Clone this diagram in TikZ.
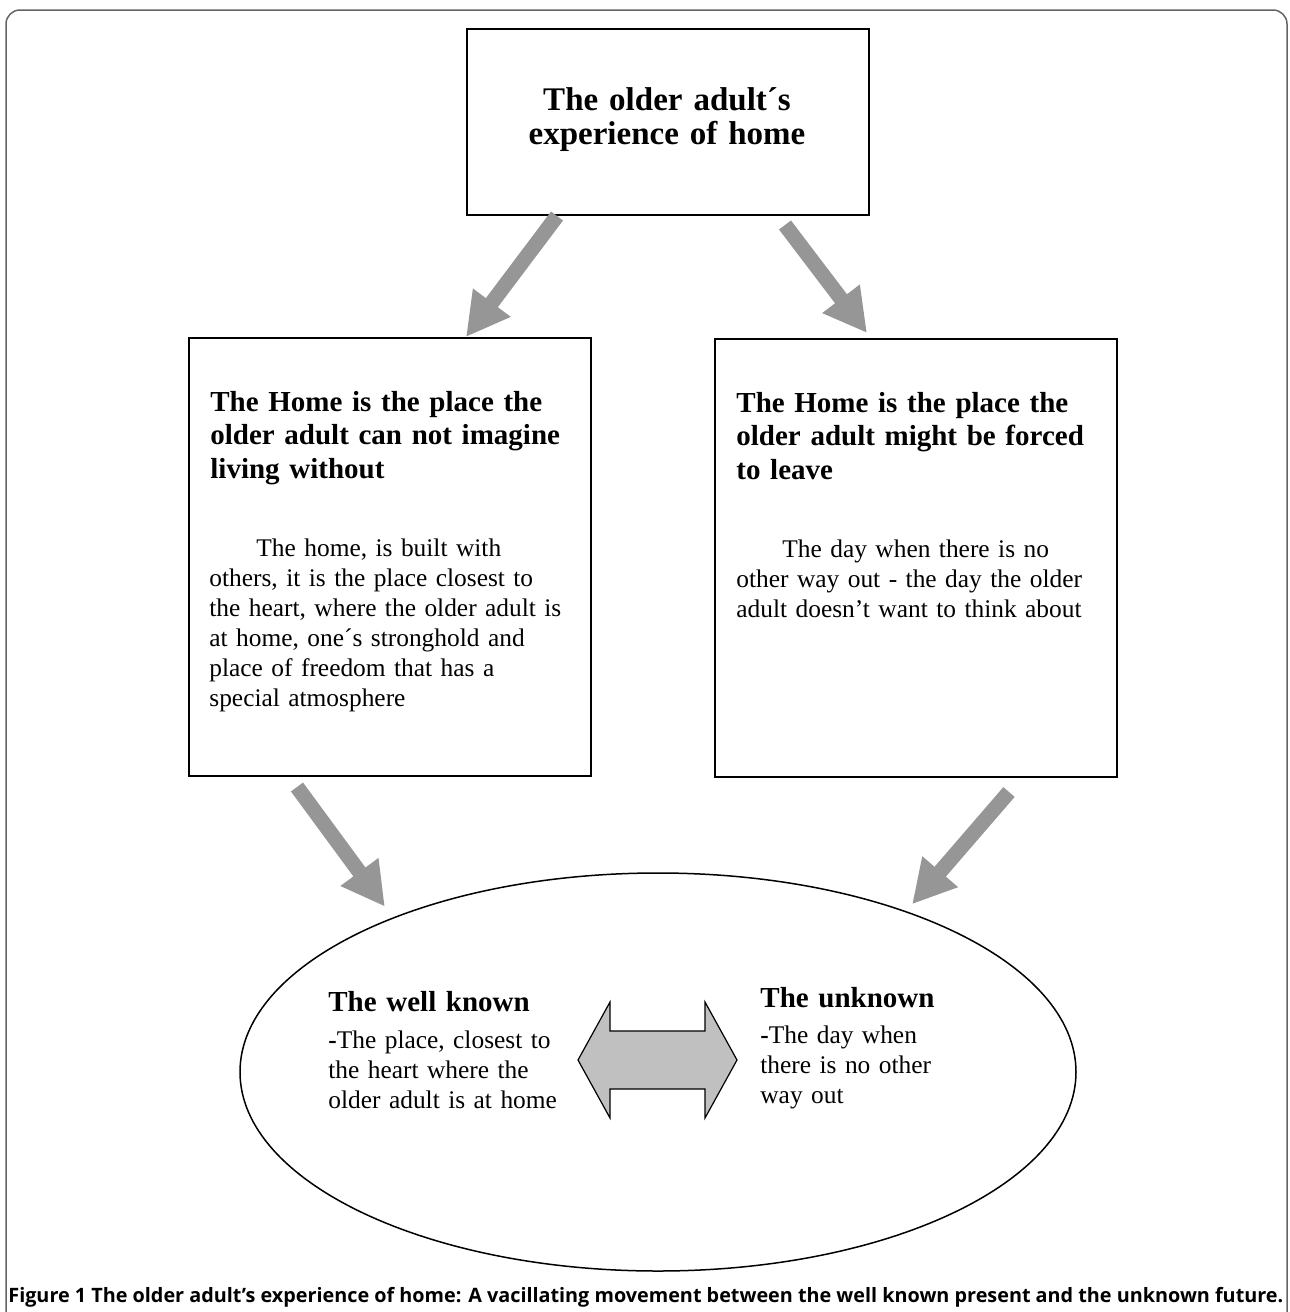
\documentclass[tikz,border=0pt]{standalone}
\usepackage{fontspec}
\setmainfont{Liberation Serif}
\newfontfamily\captionfont{Open Sans}
\usetikzlibrary{arrows.meta, shapes.geometric}

\definecolor{arrowgray}{RGB}{150,150,150}
\definecolor{shadegray}{RGB}{192,192,192}
\definecolor{framegray}{RGB}{100,100,100}

\begin{document}
\begin{tikzpicture}[x = 0.5pt, y = -0.5pt,
	box/.style = {draw, line width = 1pt, inner sep = 0, anchor = north west, minimum width = 201pt},
	flow/.style = {draw = arrowgray, line width = 7.5pt, -{Triangle[length = 21.5pt, width = 22pt]}},
	title/.style = {anchor = base west, inner sep = 0, text width = 200pt, align = left, font = \bfseries\fontsize{14.5}{16.75}\selectfont},
	body/.style = {anchor = base west, inner sep = 0, text width = 200pt, align = left, font = \fontsize{12.7}{15}\selectfont}]

	% Page + frame

	\useasboundingbox (0, 0) rectangle (1290, 1312);
	\draw [framegray, line width = 0.75pt, rounded corners = 7pt] (6, 10) rectangle (1287, 1340);

	% Boxes

	\node [box, minimum height = 93pt] (experience) at (466, 28) {};
	\node [box, minimum height = 219pt] (notwithout) at (188, 337) {};
	\node [box, minimum height = 219pt] (forced) at (714, 338) {};

	\node [draw, ellipse, line width = 0.75pt, minimum width = 418pt, minimum height = 199pt, inner sep = 0] (vacillate) at (658, 1072) {};

	% Texts

	\node [anchor = base, inner sep = 0, text width = 201pt, align = center, font = \bfseries\fontsize{16.5}{17}\selectfont] (experiencetext) at (667, 110) {The older adult´s\\experience of home};

	\node [title] (notwithouttitle) at (210, 411) {The Home is the place the\\older adult can not imagine\\living without};
	\node [body] (notwithoutbody) at (209, 556) {\hspace*{23.5pt}The home, is built with\\others, it is the place closest to\\the heart, where the older adult is\\at home, one´s stronghold and\\place of freedom that has a\\special atmosphere};

	\node [title] (forcedtitle) at (736, 412) {The Home is the place the\\older adult might be forced\\to leave};
	\node [body] (forcedbody) at (736, 557) {\hspace*{23pt}The day when there is no\\other way out - the day the older\\adult doesn’t want to think about};

	\node [title] (wellknown) at (328, 1011) {The well known};
	\node [body] (wellknownbody) at (328, 1048) {\textbf{-}The place, closest to\\the heart where the\\older adult is at home};

	\node [title] (unknown) at (760, 1007) {The unknown};
	\node [body] (unknownbody) at (760, 1043) {\textbf{-}The day when\\there is no other\\way out};

	% Arrows

	\draw [flow] ([xshift = 45.5pt] experience.south west) -- ([xshift = 139pt] notwithout.north west);
	\draw [flow] ([xshift = -42.5pt, yshift = -4.5pt] experience.south east) -- ([xshift = 76.5pt, yshift = 2.5pt] forced.north west);
	\draw [flow] ([xshift = 54.5pt, yshift = -5pt] notwithout.south west) -- ([yshift = 7pt] vacillate.151);
	\draw [flow] ([xshift = -54.5pt, yshift = -7pt] forced.south east) -- ([yshift = 4.5pt] vacillate.32);

	% Double arrow between the two sides

	\draw [fill = shadegray, line width = 0.6pt] (578, 1060) -- (610, 1002) -- (610, 1031) -- (705, 1031) -- (705, 1002) -- (737, 1060)
		-- (705, 1118) -- (705, 1089) -- (610, 1089) -- (610, 1118) -- cycle;

	% Caption

	\node [anchor = base west, inner sep = 0, font = \captionfont\bfseries\fontsize{9.9}{11}\selectfont] (caption) at (8, 1302) {Figure 1 The older adult’s experience of home: A vacillating movement between the well known present and the unknown future.};

\end{tikzpicture}
\end{document}
